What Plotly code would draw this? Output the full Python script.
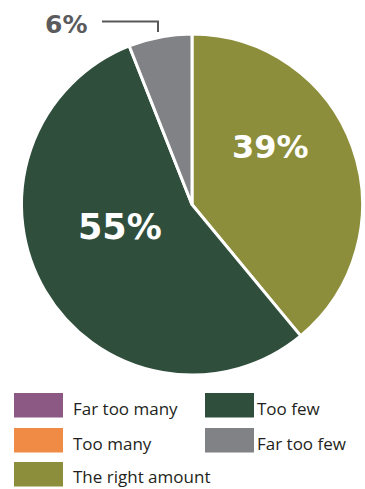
import plotly.graph_objects as go

categories = ["Far too many", "Too many", "The right amount", "Too few", "Far too few"]
values = [0, 0, 39, 55, 6]
colors = ["#8B5983", "#EF8B44", "#8C8E3B", "#2F4E3C", "#808285"]
legend_order = ["Far too many", "Too few", "Too many", "Far too few", "The right amount"]

W, H = 365, 489


def fx(x):
    return x / W


def fy(y):
    return 1 - y / H


fig = go.Figure()
fig.add_trace(go.Pie(
    labels=categories,
    values=values,
    sort=False,
    direction="clockwise",
    rotation=0,
    marker=dict(colors=colors, line=dict(color="white", width=3)),
    textinfo="none",
    textposition="none",
    domain=dict(x=[fx(21), fx(363)], y=[fy(375), fy(34)]),
    showlegend=False,
    hoverinfo="label+percent",
))

shapes = []
annotations = []

# percentage labels (text derived from the values)
label_spots = {
    "The right amount": dict(x=270, y=147.5, size=32, color="white"),
    "Too few": dict(x=120, y=226.5, size=35, color="white"),
    "Far too few": dict(x=65.5, y=24, size=25, color="#5B5B5D"),
}
for name, s in label_spots.items():
    v = values[categories.index(name)]
    annotations.append(dict(
        x=fx(s["x"]), y=fy(s["y"]), xref="paper", yref="paper",
        text=f"{v}%", showarrow=False, xanchor="center", yanchor="middle",
        font=dict(family="DejaVu Sans", size=s["size"], color=s["color"], weight="bold"),
    ))

# bracket leader for the small slice
shapes.append(dict(type="path", xref="paper", yref="paper",
                   path=f"M {fx(102)} {fy(21.5)} L {fx(158)} {fy(21.5)} L {fx(158)} {fy(32)}",
                   line=dict(color="#58585A", width=2)))

# custom legend
col_x = [14, 205]
text_off = [57, 50]
row_y = [393, 428, 462]
for k, name in enumerate(legend_order):
    r, c = divmod(k, 2)
    i = categories.index(name)
    x0 = col_x[c]
    y0 = row_y[r]
    shapes.append(dict(type="rect", xref="paper", yref="paper",
                       x0=fx(x0), x1=fx(x0 + 49), y0=fy(y0 + 24.5), y1=fy(y0),
                       fillcolor=colors[i], line=dict(width=0)))
    annotations.append(dict(
        x=fx(x0 + text_off[c]), y=fy(y0 + 15.8 if r < 2 else y0 + 14.5), xref="paper", yref="paper",
        text=name, showarrow=False, xanchor="left", yanchor="middle",
        font=dict(family="Open Sans", size=17, color="#231F20"),
    ))

fig.update_layout(
    width=W, height=H,
    margin=dict(l=0, r=0, t=0, b=0),
    paper_bgcolor="white", plot_bgcolor="white",
    shapes=shapes, annotations=annotations,
)

fig.write_html(
    "out.html",
    config={"displayModeBar": False},
    post_script="document.body.style.margin='0';document.body.style.overflow='hidden';",
)
